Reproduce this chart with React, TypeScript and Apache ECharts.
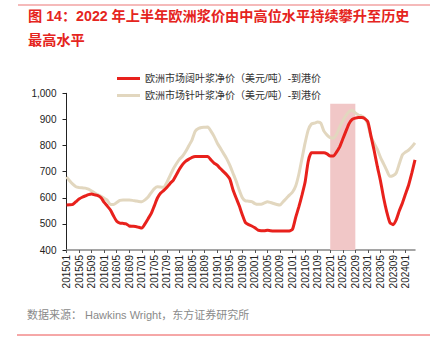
import React, { useEffect, useRef } from "react";
import * as echarts from "echarts";

const startYear = 2015;
const monthCount = 112; // 201501 .. 202404
const categories: string[] = [];
for (let i = 0; i < monthCount; i++) {
  const y = startYear + Math.floor(i / 12);
  const m = (i % 12) + 1;
  categories.push(`${y}${m < 10 ? "0" + m : m}`);
}

const hardwoodName = "欧洲市场阔叶浆净价（美元/吨）-到港价";
const softwoodName = "欧洲市场针叶浆净价（美元/吨）-到港价";

const hardwood = [
  572, 573, 575, 585, 595, 602, 607, 612, 614, 611, 608, 600, 582, 568, 553, 530, 510, 503, 502, 500,
  492, 491, 490, 487, 484, 500, 520, 540, 570, 600, 618, 628, 640, 655, 667, 688, 710, 728, 740, 748, 755, 758, 758, 758, 758, 758,
  745, 733, 725, 712, 700, 688, 672, 632, 600, 570, 535, 505, 497, 492, 485, 476, 474, 474, 476, 474, 473, 473, 473, 473, 473, 473, 480, 525, 565, 610, 660, 740, 772, 772, 772, 772,
  772, 768, 760, 760, 775, 795, 825, 855, 884, 900, 905, 907, 907, 903, 890, 835, 780, 720, 665, 600, 546, 505, 497, 515, 550, 580, 615, 650, 695, 745,
];

const softwood = [
  680, 665, 652, 642, 639, 638, 637, 633, 626, 618, 612, 606, 598, 590, 574, 574, 582, 590, 591, 591,
  591, 590, 588, 586, 585, 592, 603, 620, 635, 642, 641, 640, 660, 685, 710, 730, 748, 760, 778, 800, 822, 855, 865, 869, 870, 871,
  855, 835, 810, 790, 770, 750, 725, 695, 665, 630, 600, 588, 587, 585, 578, 575, 575, 580, 585, 582, 578, 574, 572, 585, 597, 610, 622, 645, 690, 750, 810, 860, 882, 886, 890, 886,
  855, 840, 830, 828, 843, 870, 895, 915, 930, 935, 925, 917, 913, 905, 880, 833, 808, 785, 755, 730, 705, 682, 685, 695, 730, 765, 775, 783, 795, 810,
];

const shadeStart = "202201";
const shadeEnd = "202209";
const shadeTop = 960;

const yMin = 400;
const yMax = 1000;
const yInterval = 100;

const titleText = "图 14：2022 年上半年欧洲浆价由中高位水平持续攀升至历史\n最高水平";
const sourceText = "数据来源： Hawkins Wright，东方证券研究所";

const latin = "'Liberation Sans', Arial, 'Noto Sans CJK SC', sans-serif";
const cjk = "'Liberation Sans', 'Noto Sans CJK SC', sans-serif";

export default function App() {
  const ref = useRef<HTMLDivElement>(null);
  useEffect(() => {
    if (!ref.current) return;
    ref.current.style.setProperty("text-spacing-trim", "space-all");
    const chart = echarts.init(ref.current, undefined, { renderer: "svg" });
    chart.setOption({
      animation: false,
      title: {
        text: titleText,
        left: 28,
        top: 4,
        padding: 0,
        textStyle: {
          fontSize: 14.2,
          fontWeight: "bold",
          color: "#e52420",
          lineHeight: 24,
          fontFamily: cjk,
        },
      },
      legend: {
        orient: "vertical",
        left: 117,
        top: 72,
        padding: 0,
        itemGap: 4,
        itemWidth: 23,
        itemHeight: 3,
        icon: "rect",
        textStyle: { fontSize: 10, color: "#333", lineHeight: 13, fontFamily: cjk },
        data: [hardwoodName, softwoodName],
      },
      grid: { left: 66.5, right: 28, top: 93.3, bottom: 96, containLabel: false },
      xAxis: {
        type: "category",
        data: categories,
        boundaryGap: false,
        axisLine: { lineStyle: { color: "#888", width: 1.5 } },
        axisTick: { show: true, interval: 3, length: 3, lineStyle: { color: "#555" } },
        axisLabel: {
          interval: 3,
          rotate: 90,
          fontSize: 10,
          color: "#222",
          margin: 5,
          fontFamily: latin,
        },
        splitLine: { show: false },
      },
      yAxis: {
        type: "value",
        min: yMin,
        max: yMax,
        interval: yInterval,
        axisLine: { show: true, lineStyle: { color: "#222", width: 1 } },
        axisTick: { show: true, length: 4, lineStyle: { color: "#222" } },
        axisLabel: {
          fontSize: 10,
          color: "#222",
          margin: 10,
          fontFamily: latin,
          formatter: (v: number) => v.toLocaleString("en-US"),
        },
        splitLine: { show: false },
      },
      series: [
        {
          name: "shade",
          type: "line",
          data: [],
          z: 1,
          silent: true,
          markArea: {
            silent: true,
            itemStyle: { color: "#f1c7c7", opacity: 1 },
            data: [[{ xAxis: shadeStart, yAxis: yMin }, { xAxis: shadeEnd, yAxis: shadeTop }]],
          },
        },
        {
          name: softwoodName,
          type: "line",
          data: softwood,
          showSymbol: false,
          smooth: 0.2,
          z: 3,
          lineStyle: { color: "#e2d7bf", width: 3 },
          itemStyle: { color: "#e2d7bf" },
        },
        {
          name: hardwoodName,
          type: "line",
          data: hardwood,
          showSymbol: false,
          smooth: 0.2,
          z: 4,
          lineStyle: { color: "#e8211c", width: 3 },
          itemStyle: { color: "#e8211c" },
        },
      ],
      graphic: [
        {
          type: "line",
          shape: { x1: 18, y1: 5, x2: 430, y2: 5 },
          style: { stroke: "#f2a3a3", lineWidth: 1.5 },
        },
        {
          type: "text",
          left: 27,
          top: 309,
          style: { text: sourceText, fontSize: 11, fill: "#8a8a8a", fontFamily: cjk },
        },
        {
          type: "line",
          shape: { x1: 17, y1: 335, x2: 430, y2: 335 },
          style: { stroke: "#ec5050", lineWidth: 1 },
        },
      ],
    });
    return () => chart.dispose();
  }, []);
  return <div ref={ref} style={{ width: 443, height: 346, position: "absolute", left: 0, top: 0 }} />;
}
